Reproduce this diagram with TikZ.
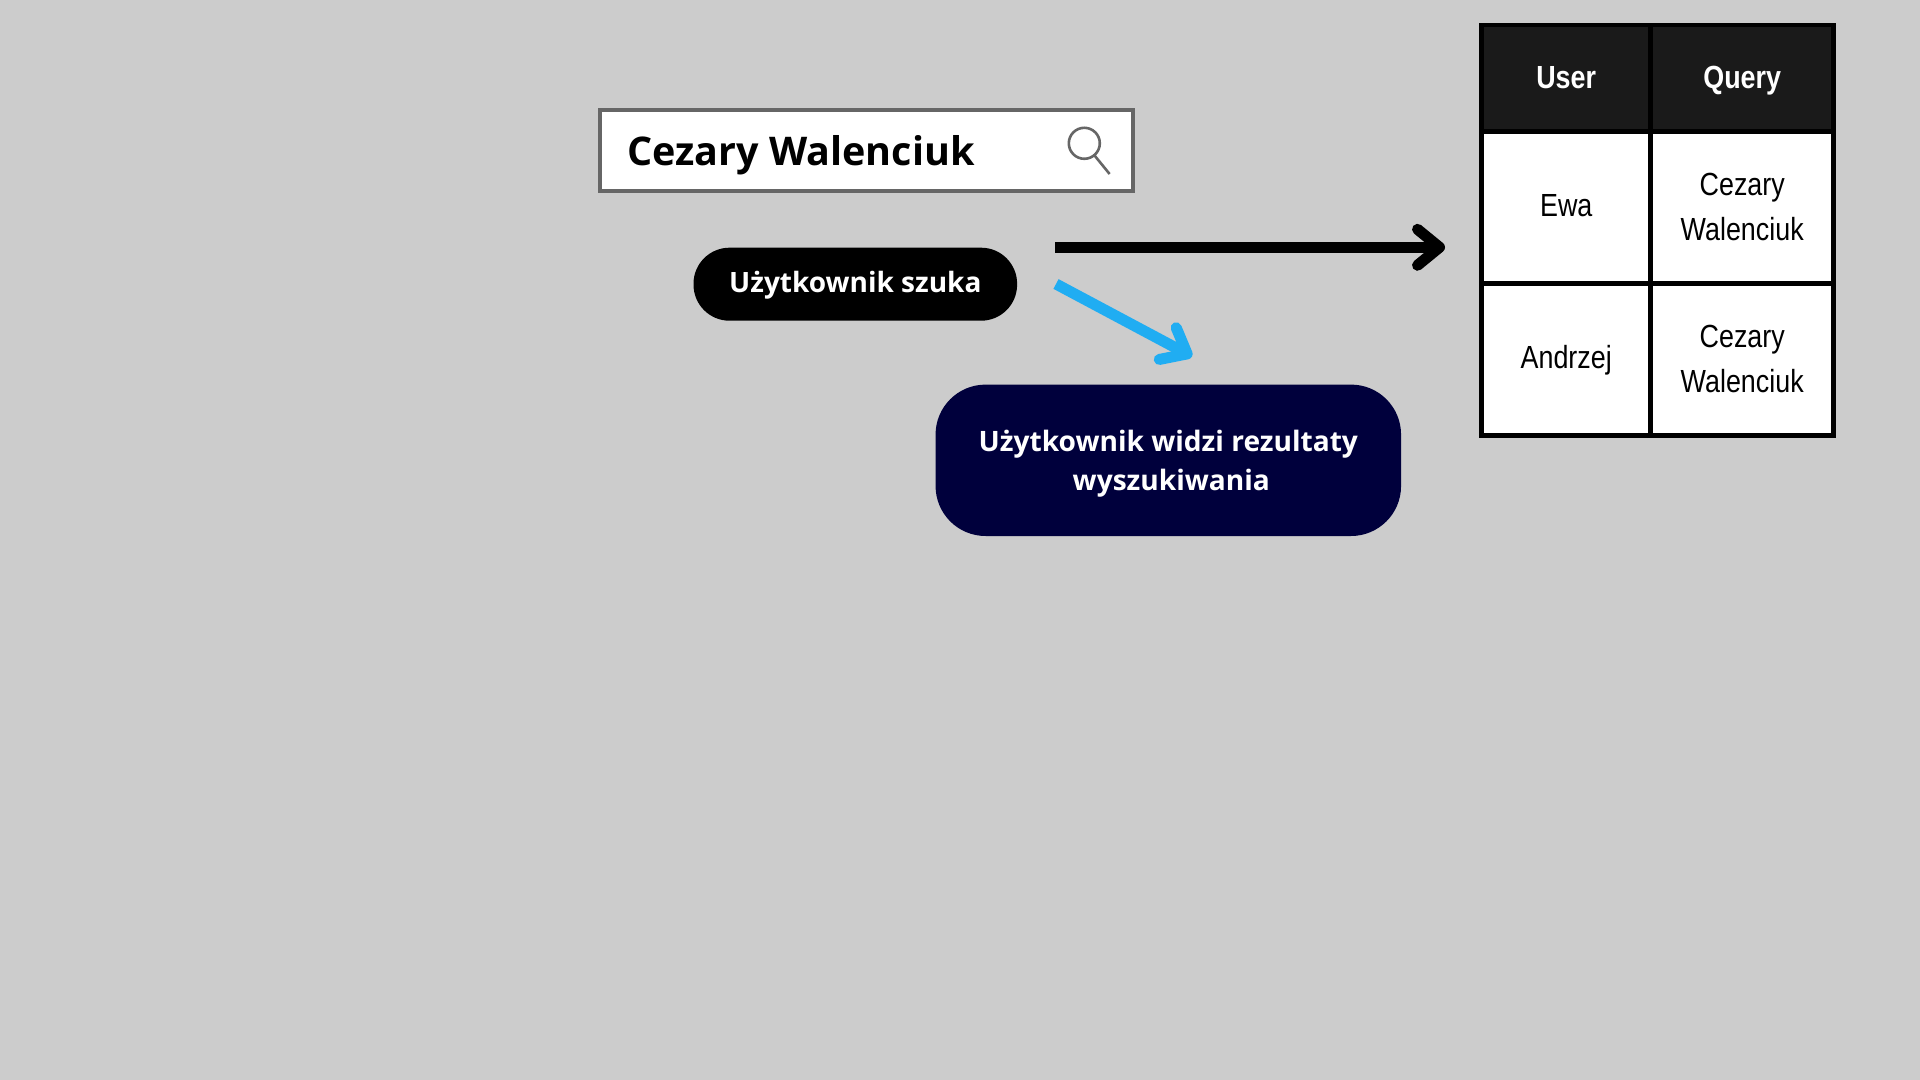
\documentclass[tikz,border=0pt]{standalone}
\usepackage{fontspec}
\usetikzlibrary{arrows.meta}
\setmainfont{Open Sans}[BoldFont={Open Sans Bold}]
\newfontfamily\narrowfont[FakeStretch=0.84]{Liberation Sans}
\newfontfamily\narrowbold[FakeStretch=0.84]{Liberation Sans Bold}
\definecolor{bggray}{HTML}{CCCCCC}
\definecolor{framegray}{HTML}{666666}
\definecolor{navybox}{HTML}{00003C}
\definecolor{skyarrow}{HTML}{20ADF2}
\definecolor{headcell}{HTML}{1A1A1A}
\newcommand{\oneline}[2]{\smash{\makebox[0pt]{\raisebox{#1}{#2}}}}
\newcommand{\twolines}[4]{\smash{\makebox[0pt]{\raisebox{#1}{#2}}\makebox[0pt]{\raisebox{#3}{#4}}}}
\tikzset{
  x=0.5pt,y=-0.5pt,
  flatbox/.style={inner sep=0pt,outer sep=0pt,draw=none},
  searchbox/.style={flatbox,fill=white,draw=framegray,line width=2pt,minimum width=266.5pt,minimum height=40.3pt},
  pillbox/.style={flatbox,fill=black,text=white,rounded corners=18pt,minimum width=161.8pt,minimum height=36.5pt,font=\fontsize{14}{17}\selectfont\bfseries},
  navyblock/.style={flatbox,fill=navybox,text=white,rounded corners=25pt,minimum width=232.75pt,minimum height=75.7pt,font=\fontsize{14.05}{17}\selectfont\bfseries},
  tableframe/.style={flatbox,fill=black,minimum width=178.5pt,minimum height=207.7pt},
  headbox/.style={flatbox,fill=headcell,text=white,font=\fontsize{16}{19}\narrowbold},
  bodybox/.style={flatbox,fill=white,text=black,font=\fontsize{16}{19}\narrowfont},
  cola/.style={minimum width=82.2pt},
  colb/.style={minimum width=88.9pt},
  blackarrow/.style={draw=black,line width=5.5pt,-{Straight Barb[length=11pt,width=18pt,round,line width=5.5pt]}},
  bluearrow/.style={draw=skyarrow,line width=5.5pt,-{Straight Barb[length=11pt,width=18pt,round,line width=5.5pt]}},
  iconline/.style={draw=framegray,line width=1.3pt}
}
\begin{document}
\begin{tikzpicture}
\useasboundingbox[fill=bggray] (0,0) rectangle (1920,1080);
% search box
\node[searchbox] (search) at (866.4,150.3) {};
\node[flatbox,anchor=base west,font=\fontsize{19.75}{24}\selectfont\bfseries] (searchtext) at (627.2,165.4) {Cezary Walenciuk};
\node[flatbox,circle,iconline,minimum size=15.5pt] (lens) at (1084.3,143.3) {};
\coordinate (handleend) at (1109.6,174);
\draw[iconline] (lens.-50) -- (handleend);
% labels
\node[pillbox] (pill) at (855.3,284.2) {\oneline{-4.1pt}{Użytkownik szuka}};
\node[navyblock] (result) at (1168.3,460.3) {\twolines{4.2pt}{Użytkownik widzi rezultaty}{-14.95pt}{\hspace*{3pt}wyszukiwania}};
% arrows
\coordinate (blackstart) at (1055.4,247.3);
\coordinate (blackend) at (1445,247.3);
\coordinate (bluestart) at (1056,284);
\coordinate (blueend) at (1192,356.5);
\draw[blackarrow] (blackstart) -- (blackend);
\draw[bluearrow] (bluestart) -- (blueend);
% table
\node[tableframe] (frame) at (1657.5,230.3) {};
\node[headbox,cola,minimum height=51pt] (huser) at (1566.2,78.3) {\oneline{-5.3pt}{User}};
\node[headbox,colb,minimum height=51pt] (hquery) at (1742.2,78.3) {\oneline{-5.3pt}{Query}};
\node[bodybox,cola,minimum height=73.4pt] (ewa) at (1566.2,207.7) {\oneline{-4.6pt}{Ewa}};
\node[bodybox,colb,minimum height=73.4pt] (qone) at (1742.2,207.7) {\twolines{6.3pt}{Cezary}{-16.25pt}{Walenciuk}};
\node[bodybox,cola,minimum height=73.5pt] (andrzej) at (1566.2,359.8) {\oneline{-4.5pt}{Andrzej}};
\node[bodybox,colb,minimum height=73.5pt] (qtwo) at (1742.2,359.8) {\twolines{5.95pt}{Cezary}{-16.2pt}{Walenciuk}};
\end{tikzpicture}
\end{document}
